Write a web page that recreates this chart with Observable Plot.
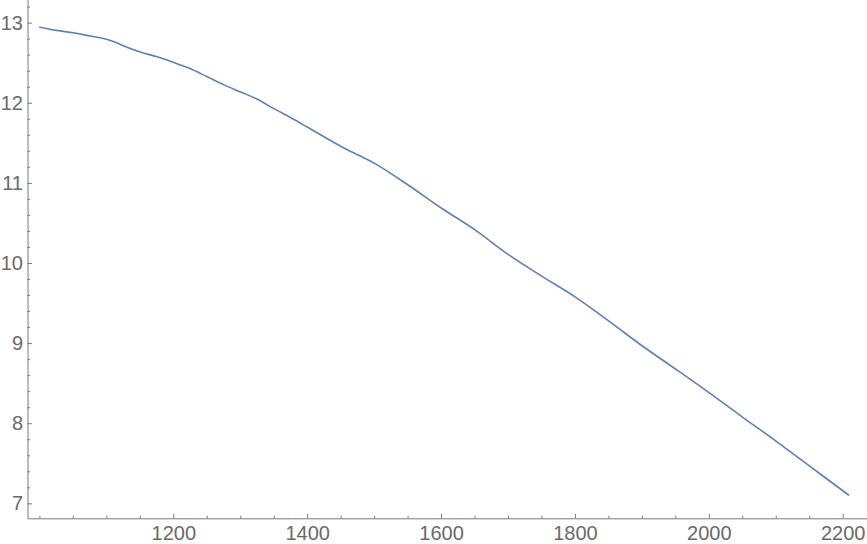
<!DOCTYPE html>
<html><head><meta charset="utf-8">
<script src="https://cdn.jsdelivr.net/npm/d3@7"></script>
<script src="https://cdn.jsdelivr.net/npm/@observablehq/plot@0.6"></script>
<style>html,body{margin:0;padding:0;background:#fff}</style>
</head><body><div id="chart"></div>
<script>
const xValues = [1000, 1025, 1050, 1075, 1092, 1110, 1130, 1150, 1175, 1200, 1225, 1250, 1275, 1300, 1325, 1350, 1375, 1400, 1450, 1500, 1550, 1600, 1650, 1700, 1750, 1800, 1850, 1900, 1950, 2000, 2050, 2100, 2150, 2200, 2208];
const yValues = [12.95, 12.91, 12.88, 12.84, 12.815, 12.77, 12.70, 12.64, 12.58, 12.51, 12.43, 12.33, 12.23, 12.14, 12.05, 11.93, 11.82, 11.70, 11.46, 11.25, 10.98, 10.69, 10.42, 10.11, 9.84, 9.58, 9.28, 8.97, 8.68, 8.385, 8.08, 7.78, 7.47, 7.16, 7.11];
const xTickLabels = [1200, 1400, 1600, 1800, 2000, 2200];
const xMinorTicks = [1000, 1050, 1100, 1150, 1250, 1300, 1350, 1450, 1500, 1550, 1650, 1700, 1750, 1850, 1900, 1950, 2050, 2100, 2150];
const yTickLabels = [7, 8, 9, 10, 11, 12, 13];
const yMinorTicks = [7.2, 7.4, 7.6, 7.8, 8.2, 8.4, 8.6, 8.8, 9.2, 9.4, 9.6, 9.8, 10.2, 10.4, 10.6, 10.8, 11.2, 11.4, 11.6, 11.8, 12.2, 12.4, 12.6, 12.8, 13.2];

const data = xValues.map((x, i) => ({x, y: yValues[i]}));
const W = 867, H = 544, mL = 27.5, mB = 25.7;
const xDomain = [982.2, 2236.3], yDomain = [6.813, 13.283];
const frameH = H - mB, frameW = W - mL;
const axisColor = "#7a7a7a", labelColor = "#6a6a6a";

const chart = Plot.plot({
  width: W, height: H,
  marginLeft: mL, marginRight: 0, marginTop: 0, marginBottom: mB,
  style: {fontFamily: "'Liberation Sans', Arial, sans-serif", background: "white", overflow: "visible"},
  x: {domain: xDomain, axis: null, label: null},
  y: {domain: yDomain, axis: null, label: null},
  marks: [
    Plot.ruleY([yDomain[0]], {stroke: axisColor, strokeWidth: 1}),
    Plot.ruleX([xDomain[0]], {stroke: axisColor, strokeWidth: 1}),
    Plot.tickX(xMinorTicks, {x: d => d, stroke: axisColor, insetTop: frameH - 2.5}),
    Plot.tickX(xTickLabels, {x: d => d, stroke: axisColor, insetTop: frameH - 4.5}),
    Plot.tickY(yMinorTicks, {y: d => d, stroke: axisColor, insetRight: frameW - 2.5}),
    Plot.tickY(yTickLabels, {y: d => d, stroke: axisColor, insetRight: frameW - 4.5}),
    Plot.axisX(xTickLabels, {tickSize: 0, tickPadding: 7, fontSize: 20, color: labelColor, label: null, tickFormat: d => String(d)}),
    Plot.axisY(yTickLabels, {tickSize: 0, tickPadding: 5, fontSize: 20, color: labelColor, label: null, tickFormat: d => String(d)}),
    Plot.line(data, {x: "x", y: "y", stroke: "#5E81B5", strokeWidth: 1.6, curve: "monotone-x"})
  ]
});
document.getElementById("chart").appendChild(chart);
</script>
</body></html>
